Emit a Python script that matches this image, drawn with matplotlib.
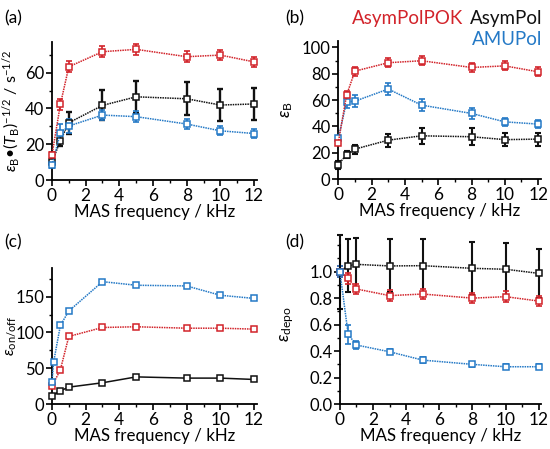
import matplotlib
matplotlib.use("Agg")
import matplotlib.pyplot as plt
from matplotlib.ticker import MultipleLocator, FormatStrFormatter

plt.rcParams["font.family"] = ["Lato", "DejaVu Sans"]
plt.rcParams["mathtext.fontset"] = "custom"
plt.rcParams["mathtext.rm"] = "Lato"
plt.rcParams["mathtext.it"] = "Lato:italic"
plt.rcParams["mathtext.fallback"] = "stixsans"

RED = "#d2232a"
BLUE = "#2479c6"
BLACK = "#111111"

freq = [0, 0.5, 1, 3, 5, 8, 10, 12]
freq_amu_c = [0, 0.1, 0.5, 1, 3, 5, 8, 10, 12]

# (a) eps_B * T_B^-1/2
a_pok = [14, 42.3, 63.3, 71.7, 73.0, 68.9, 69.8, 66.0]
a_pok_err = [1.5, 3, 3, 3, 3, 3, 3, 3]
a_asym = [10, 22, 32, 41.7, 46.5, 45.4, 41.9, 42.5]
a_asym_err = [1.5, 3, 6, 8.4, 8.8, 9.3, 8.8, 8.7]
a_amu = [8.4, 26.4, 30.2, 36.3, 35.4, 31.3, 27.5, 26.0]
a_amu_err = [1.5, 5, 4, 2.8, 3, 3, 2.5, 2.5]

# (b) eps_B
b_pok = [27.6, 63.8, 82, 88.4, 89.9, 84.8, 86, 81.5]
b_pok_err = [2, 3.5, 3.5, 3.5, 3.5, 3.5, 3.5, 3.5]
b_asym = [11, 18.7, 22.8, 29.6, 32.9, 32.2, 30, 30.4]
b_asym_err = [3, 3, 3.5, 5, 6.3, 6.3, 5, 5]
b_amu = [30.9, 58.7, 59.2, 68.4, 56.2, 49.9, 43.5, 41.8]
b_amu_err = [2, 5, 4.5, 4.4, 4.4, 4, 3, 3]

# (c) eps_on/off
c_pok = [25, 48, 94.5, 107, 108, 106, 106, 104.7]
c_asym = [11.6, 18.6, 23.7, 29.8, 38, 36.3, 36.3, 34.4]
c_amu = [31, 59, 110, 130, 171, 166, 165, 152, 147.6]

# (d) eps_depo
d_pok = [1.0, 0.95, 0.869, 0.819, 0.831, 0.80, 0.811, 0.778]
d_pok_err = [0.04, 0.04, 0.04, 0.04, 0.04, 0.04, 0.04, 0.04]
d_asym = [1.0, 1.045, 1.055, 1.043, 1.045, 1.025, 1.018, 0.987]
d_asym_err = [0.28, 0.2, 0.2, 0.2, 0.2, 0.2, 0.2, 0.185]
d_amu = [1.0, 0.526, 0.446, 0.395, 0.332, 0.30, 0.282, 0.282]
d_amu_err = [0.04, 0.07, 0.03, 0.02, 0.02, 0.02, 0.02, 0.02]

DOT = (0, (1, 0.6))
FS = 12


def series(ax, x, y, color, err=None, ls=DOT, elw=1.2):
    ax.plot(x, y, color=color, linestyle=ls, linewidth=1.1, marker="s",
            markersize=4, markerfacecolor="white", markeredgecolor=color,
            markeredgewidth=1.1, clip_on=False, zorder=3)
    if err is not None:
        ax.errorbar(x, y, yerr=err, fmt="none", ecolor=color, elinewidth=elw,
                    capsize=2.3, capthick=elw, clip_on=False, zorder=2)


def style(ax, ymax, major, minor, lab_x):
    ax.set_xlim(0, 12.15)
    ax.set_ylim(0, ymax)
    ax.spines["top"].set_visible(False)
    ax.spines["right"].set_visible(False)
    for s in ("left", "bottom"):
        ax.spines[s].set_linewidth(1.3)
    ax.xaxis.set_major_locator(MultipleLocator(2))
    ax.xaxis.set_minor_locator(MultipleLocator(1))
    ax.yaxis.set_major_locator(MultipleLocator(major))
    ax.yaxis.set_minor_locator(MultipleLocator(minor))
    ax.tick_params(which="major", direction="out", length=4, width=1.2,
                   labelsize=FS + 0.5, pad=2)
    ax.tick_params(axis="y", which="major", labelsize=FS, pad=1.5)
    ax.tick_params(which="minor", direction="out", length=2.5, width=1.0)
    ax.set_xlabel("MAS frequency / kHz", fontsize=FS + 0.2, labelpad=0)
    ax.yaxis.set_label_coords(lab_x, 0.5)


fig = plt.figure(figsize=(5.5, 4.49), dpi=100)
ax_a = fig.add_axes([0.0945, 0.599, 0.372, 0.307])
ax_b = fig.add_axes([0.615, 0.601, 0.368, 0.308])
ax_c = fig.add_axes([0.0945, 0.100, 0.372, 0.303])
ax_d = fig.add_axes([0.618, 0.100, 0.366, 0.354])

# (a)
series(ax_a, freq, a_asym, BLACK, a_asym_err, elw=1.7)
series(ax_a, freq, a_amu, BLUE, a_amu_err)
series(ax_a, freq, a_pok, RED, a_pok_err)
style(ax_a, 77, 20, 10, -0.145)
ax_a.set_ylabel(r"$\varepsilon_\mathrm{B}$•($T_\mathrm{B}$)$^{-1/2}$ / s$^{-1/2}$",
                fontsize=11.5)

# (b)
series(ax_b, freq, b_asym, BLACK, b_asym_err, elw=1.5)
series(ax_b, freq, b_amu, BLUE, b_amu_err)
series(ax_b, freq, b_pok, RED, b_pok_err)
style(ax_b, 105, 20, 10, -0.215)
ax_b.set_ylabel(r"$\varepsilon_\mathrm{B}$", fontsize=12.5)

# (c)
series(ax_c, freq, c_asym, BLACK, ls="-")
series(ax_c, freq, c_pok, RED)
series(ax_c, freq_amu_c, c_amu, BLUE)
style(ax_c, 190, 50, 25, -0.165)
ax_c.set_ylabel(r"$\varepsilon_\mathrm{on/off}$", fontsize=11.5)

# (d)
series(ax_d, freq, d_asym, BLACK, d_asym_err, elw=1.5)
series(ax_d, freq, d_pok, RED, d_pok_err)
series(ax_d, freq, d_amu, BLUE, d_amu_err)
style(ax_d, 1.2, 0.2, 0.1, -0.22)
ax_d.yaxis.set_major_formatter(FormatStrFormatter("%.1f"))
ax_d.set_yticks([0, 0.2, 0.4, 0.6, 0.8, 1.0])
ax_d.set_ylabel(r"$\varepsilon_\mathrm{depo}$", fontsize=12.5)

for lab, x, y in (("(a)", 0.008, 0.978), ("(b)", 0.518, 0.978),
                  ("(c)", 0.008, 0.478), ("(d)", 0.518, 0.478)):
    fig.text(x, y, lab, fontsize=12.5, va="top", ha="left")

fig.text(0.842, 0.978, "AsymPolPOK", color=RED, fontsize=13.5, va="top", ha="right")
fig.text(0.986, 0.978, "AsymPol", color=BLACK, fontsize=13.5, va="top", ha="right")
fig.text(0.986, 0.93, "AMUPol", color=BLUE, fontsize=13.5, va="top", ha="right")

fig.savefig("out.png", dpi=100)
